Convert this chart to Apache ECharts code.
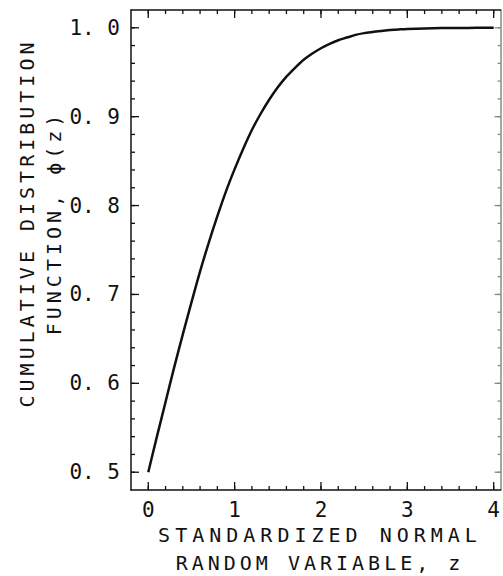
<!DOCTYPE html>
<html>
<head>
<meta charset="utf-8">
<script src="https://cdn.jsdelivr.net/npm/echarts@6/dist/echarts.min.js"></script>
<style>
  html, body { margin: 0; padding: 0; background: #fff; }
  #chart { width: 503px; height: 576px; }
</style>
</head>
<body>
<div id="chart"></div>
<script>
// Standardized normal variable z and its cumulative distribution phi(z)
const zValues = [0.0, 0.1, 0.2, 0.3, 0.4, 0.5, 0.6, 0.7, 0.8, 0.9,
                 1.0, 1.1, 1.2, 1.3, 1.4, 1.5, 1.6, 1.7, 1.8, 1.9,
                 2.0, 2.1, 2.2, 2.3, 2.4, 2.5, 2.6, 2.7, 2.8, 2.9,
                 3.0, 3.2, 3.4, 3.6, 3.8, 4.0];
const phiValues = [0.500, 0.540, 0.579, 0.618, 0.655, 0.691, 0.726, 0.758, 0.788, 0.816,
                   0.841, 0.864, 0.885, 0.903, 0.919, 0.933, 0.945, 0.955, 0.964, 0.971,
                   0.977, 0.982, 0.986, 0.989, 0.992, 0.994, 0.9953, 0.9965, 0.9974, 0.9981,
                   0.9987, 0.9993, 0.9997, 0.9998, 0.9999, 1.000];

// Tick labels
const xTickLabels = [0, 1, 2, 3, 4];
const yTickLabels = [0.5, 0.6, 0.7, 0.8, 0.9, 1.0];

// Axis titles
const xTitleLines = ['STANDARDIZED NORMAL', 'RANDOM VARIABLE, z'];
const yTitleLines = ['CUMULATIVE DISTRIBUTION', 'FUNCTION, \u03d5(z)'];

// Minor tick positions (every 0.2 on x, every 0.02 on y)
const xMinorTicks = [];
for (let k = 0; k <= 20; k++) xMinorTicks.push(Math.round(k * 2) / 10);
const yMinorTicks = [];
for (let k = 25; k <= 50; k++) yMinorTicks.push(Math.round(k * 2) / 100);

const FONT = 'DejaVu Sans Mono';
const INK = '#111';
const FRAME_RIGHT = '#888';
const X_MIN = -0.2, X_MAX = 4.08;
const Y_MIN = 0.48, Y_MAX = 1.02;

// Inward frame ticks: [side, value, length]; side 0 bottom, 1 top, 2 left, 3 right
const frameTicks = [].concat(
  xTickLabels.map(v => [0, v, 8]), xMinorTicks.map(v => [0, v, 4]),
  xTickLabels.map(v => [1, v, 8]), xMinorTicks.map(v => [1, v, 4]),
  yTickLabels.map(v => [2, v, 8]), yMinorTicks.map(v => [2, v, 4]),
  yTickLabels.map(v => [3, v, 6]), yMinorTicks.map(v => [3, v, 3])
);

function xAxisDef(position, withLabels) {
  return {
    type: 'value', position, min: X_MIN, max: X_MAX,
    axisLine: { show: true, onZero: false, lineStyle: { color: INK, width: 1.5 } },
    axisTick: { show: false },
    axisLabel: withLabels
      ? { show: true, customValues: xTickLabels.slice(), margin: 9, color: INK,
          fontFamily: FONT, fontSize: 21, formatter: v => String(v) }
      : { show: false },
    splitLine: { show: false }
  };
}
function yAxisDef(position, withLabels, lineColor) {
  return {
    type: 'value', position, min: Y_MIN, max: Y_MAX,
    axisLine: { show: true, onZero: false, lineStyle: { color: lineColor || INK, width: 1.5 } },
    axisTick: { show: false },
    axisLabel: withLabels
      ? { show: true, customValues: yTickLabels.slice(), margin: 11, color: INK,
          fontFamily: FONT, fontSize: 21,
          formatter: v => Number(v).toFixed(1).replace('.', '. ') }
      : { show: false },
    splitLine: { show: false }
  };
}

function renderTick(params, api) {
  const side = api.value(0), v = api.value(1), len = api.value(2);
  let p, q;
  if (side === 0) { p = api.coord([v, Y_MIN]); q = [p[0], p[1] - len]; }
  else if (side === 1) { p = api.coord([v, Y_MAX]); q = [p[0], p[1] + len]; }
  else if (side === 2) { p = api.coord([X_MIN, v]); q = [p[0] + len, p[1]]; }
  else { p = api.coord([X_MAX, v]); q = [p[0] - len, p[1]]; }
  return {
    type: 'line',
    shape: { x1: p[0], y1: p[1], x2: q[0], y2: q[1] },
    style: { stroke: side === 3 ? FRAME_RIGHT : INK, lineWidth: 1.3 }
  };
}

const chart = echarts.init(document.getElementById('chart'), null, { renderer: 'svg' });

chart.setOption({
  animation: false,
  backgroundColor: '#fff',
  grid: { left: 131, right: 1, top: 10, bottom: 86 },
  xAxis: [xAxisDef('bottom', true), xAxisDef('top', false)],
  yAxis: [yAxisDef('left', true), yAxisDef('right', false, FRAME_RIGHT)],
  graphic: [
    {
      type: 'text', x: 320, y: 549,
      style: { text: xTitleLines.join('\n'), fill: INK, font: '20px "' + FONT + '"',
               align: 'center', verticalAlign: 'middle', lineHeight: 28 }
    },
    {
      type: 'text', x: 40, y: 223, rotation: Math.PI / 2,
      style: { text: yTitleLines.join('\n'), fill: INK, font: '20px "' + FONT + '"',
               align: 'center', verticalAlign: 'middle', lineHeight: 27 }
    }
  ],
  series: [
    {
      type: 'line',
      xAxisIndex: 0, yAxisIndex: 0,
      data: zValues.map((z, i) => [z, phiValues[i]]),
      showSymbol: false,
      smooth: 0.3,
      lineStyle: { color: INK, width: 2.5 }
    },
    {
      type: 'custom',
      xAxisIndex: 0, yAxisIndex: 0,
      silent: true,
      z: 3,
      data: frameTicks,
      renderItem: renderTick
    }
  ]
});

// Plotter-style wide lettering for the axis titles
const titleSpacing = {};
titleSpacing[xTitleLines[0]] = 5;
titleSpacing[xTitleLines[1]] = 4;
titleSpacing[yTitleLines[0]] = 4;
titleSpacing[yTitleLines[1]] = 4;
function spaceTitles() {
  document.querySelectorAll('#chart text').forEach(t => {
    const s = titleSpacing[t.textContent];
    if (s !== undefined) t.setAttribute('letter-spacing', String(s));
  });
}
spaceTitles();
chart.on('finished', spaceTitles);
</script>
</body>
</html>
